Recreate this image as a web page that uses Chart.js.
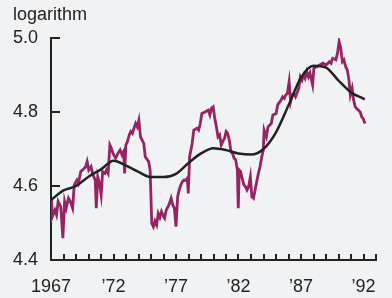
<!DOCTYPE html>
<html>
<head>
<meta charset="utf-8">
<script src="https://cdn.jsdelivr.net/npm/chart.js@4.4.0/dist/chart.umd.min.js"></script>
<style>
  html, body { margin: 0; padding: 0; background: #f1f2f4; }
  #wrap { width: 392px; height: 298px; }
</style>
</head>
<body>
<div id="wrap"><canvas id="log-chart"></canvas></div>
<script>
// actual series (monthly-ish readings), decimal years
var actualYears = [1967.05,1967.10,1967.31,1967.44,1967.57,1967.78,1967.95,1968.09,1968.22,1968.40,1968.55,1968.73,1968.86,
  1969.07,1969.19,1969.38,1969.58,1969.77,1969.89,1970.02,1970.20,1970.36,1970.54,1970.62,1970.74,1970.88,
  1971.01,1971.13,1971.32,1971.44,1971.57,1971.71,1971.83,1971.96,1972.17,1972.35,1972.53,1972.68,1972.81,1972.89,1972.99,
  1973.12,1973.26,1973.38,1973.51,1973.64,1973.77,1973.90,1974.03,1974.16,1974.42,1974.54,1974.81,1974.93,
  1975.06,1975.19,1975.32,1975.45,1975.58,1975.71,1975.84,1975.97,1976.09,1976.22,1976.36,1976.48,1976.61,1976.74,1976.87,
  1977.00,1977.13,1977.26,1977.39,1977.52,1977.64,1977.78,1977.91,1977.98,1978.09,1978.29,1978.42,1978.68,1978.81,1978.94,
  1979.07,1979.33,1979.58,1979.71,1979.84,1979.97,1980.10,1980.23,1980.36,1980.49,1980.62,1980.74,1980.88,
  1981.01,1981.13,1981.26,1981.40,1981.52,1981.65,1981.78,1981.91,1981.98,1982.06,1982.17,1982.29,1982.43,1982.56,1982.68,1982.81,1982.95,
  1983.07,1983.20,1983.33,1983.46,1983.59,1983.72,1983.84,1983.98,1984.05,1984.23,1984.36,1984.62,1984.75,
  1985.01,1985.14,1985.40,1985.53,1985.66,1985.78,1985.91,1986.05,1986.17,1986.30,1986.43,1986.56,1986.82,1986.95,
  1987.08,1987.21,1987.33,1987.47,1987.60,1987.72,1987.93,1988.03,1988.24,1988.50,1988.76,
  1989.02,1989.27,1989.40,1989.53,1989.79,1989.92,1990.05,1990.18,1990.31,1990.43,1990.57,1990.70,1990.82,1990.95,
  1991.09,1991.21,1991.34,1991.47,1991.60,1991.73,1991.86,1991.98,1992.12];
var actualValues = [4.562,4.517,4.535,4.522,4.558,4.544,4.459,4.558,4.540,4.567,4.558,4.540,4.603,
  4.616,4.607,4.639,4.645,4.652,4.666,4.643,4.652,4.630,4.616,4.540,4.625,4.607,
  4.576,4.639,4.634,4.643,4.634,4.711,4.702,4.688,4.675,4.688,4.697,4.684,4.693,4.634,4.711,
  4.720,4.738,4.747,4.742,4.756,4.769,4.760,4.778,4.733,4.715,4.679,4.666,4.643,
  4.499,4.490,4.505,4.495,4.526,4.515,4.531,4.520,4.513,4.535,4.544,4.553,4.567,4.549,4.540,
  4.490,4.571,4.590,4.603,4.612,4.616,4.615,4.621,4.580,4.679,4.715,4.751,4.756,4.751,4.769,
  4.796,4.800,4.805,4.792,4.810,4.814,4.783,4.760,4.733,4.738,4.711,4.720,4.729,
  4.747,4.742,4.725,4.693,4.688,4.675,4.670,4.643,4.540,4.643,4.639,4.621,4.603,4.598,4.589,4.598,4.625,
  4.571,4.567,4.589,4.612,4.634,4.652,4.675,4.697,4.751,4.733,4.760,4.769,4.792,
  4.796,4.820,4.832,4.841,4.837,4.846,4.850,4.882,4.828,4.846,4.850,4.841,4.864,4.895,
  4.886,4.900,4.891,4.909,4.895,4.905,4.873,4.918,4.922,4.927,4.932,
  4.927,4.936,4.932,4.945,4.941,4.959,4.990,4.972,4.936,4.941,4.923,4.914,4.891,4.846,
  4.864,4.832,4.814,4.809,4.805,4.800,4.787,4.782,4.769];

// smooth trend
var trendYears = [1967,1968,1969,1970,1971,1972,1973,1974,1975,1976,1977,1978,1979,1980,1981,1982,1983,1984,1985,1986,1987,1988,1989,1990,1991,1992,1992.1];
var trendValues = [4.562,4.588,4.600,4.625,4.645,4.668,4.655,4.638,4.624,4.624,4.633,4.662,4.688,4.702,4.697,4.688,4.685,4.700,4.745,4.818,4.893,4.925,4.920,4.885,4.853,4.836,4.834];

var yTicks = [4.4, 4.6, 4.8, 5.0];

var FONT = '"Liberation Sans", Arial, sans-serif';

function pts(xs, ys) {
  return xs.map(function (v, i) { return { x: v, y: ys[i] }; });
}

var innerTicks = {
  id: 'innerTicks',
  beforeDraw: function (chart) {
    var c = chart.ctx;
    c.save();
    c.fillStyle = '#f1f2f4';
    c.fillRect(0, 0, chart.width, chart.height);
    c.restore();
  },
  afterDraw: function (chart) {
    var c = chart.ctx, a = chart.chartArea, sx = chart.scales.x, sy = chart.scales.y;
    c.save();
    c.strokeStyle = '#222';
    c.lineWidth = 2;
    c.beginPath();
    sx.ticks.forEach(function (t) {
      var px = Math.round(sx.getPixelForValue(t.value));
      c.moveTo(px, a.bottom);
      c.lineTo(px, a.bottom - 6);
    });
    sy.ticks.forEach(function (t) {
      var py = Math.round(sy.getPixelForValue(t.value));
      c.moveTo(a.left, py);
      c.lineTo(a.left + 9, py);
    });
    c.stroke();
    c.fillStyle = '#222';
    c.font = '18px ' + FONT;
    c.textBaseline = 'middle';
    c.textAlign = 'left';
    c.fillText('logarithm', 13, 15);
    c.restore();
  }
};

new Chart(document.getElementById('log-chart'), {
  type: 'line',
  data: {
    datasets: [
      {
        label: 'trend',
        data: pts(trendYears, trendValues),
        borderColor: '#222222',
        borderWidth: 2.5,
        pointRadius: 0,
        tension: 0.4,
        cubicInterpolationMode: 'monotone',
        order: 0
      },
      {
        label: 'actual',
        data: pts(actualYears, actualValues),
        borderColor: '#962462',
        borderWidth: 2.8,
        pointRadius: 0,
        tension: 0,
        order: 1
      }
    ]
  },
  options: {
    responsive: true,
    maintainAspectRatio: false,
    animation: false,
    layout: { padding: { top: 38, right: 5, left: 0, bottom: 0 } },
    plugins: { legend: { display: false }, tooltip: { enabled: false }, title: { display: false } },
    scales: {
      x: {
        type: 'linear',
        min: 1967,
        max: 1993,
        grid: { display: false, drawTicks: false },
        border: { display: true, color: '#222', width: 2 },
        afterFit: function (s) { s.height = 38; },
        ticks: {
          stepSize: 1,
          autoSkip: false,
          maxRotation: 0,
          padding: 16,
          color: '#222',
          font: { family: FONT, size: 18 },
          callback: function (v) {
            if (v === 1967) return '1967';
            if ((v - 1967) % 5 === 0) return '\u2019' + String(v).slice(2);
            return '';
          }
        }
      },
      y: {
        min: 4.4,
        max: 5.0,
        grid: { display: false, drawTicks: false },
        border: { display: true, color: '#222', width: 2 },
        afterFit: function (s) { s.width = 51; },
        afterBuildTicks: function (s) { s.ticks = yTicks.map(function (v) { return { value: v }; }); },
        ticks: {
          padding: 13,
          color: '#222',
          font: { family: FONT, size: 18 },
          callback: function (v) { return Number(v).toFixed(1); }
        }
      }
    }
  },
  plugins: [innerTicks]
});
</script>
</body>
</html>
